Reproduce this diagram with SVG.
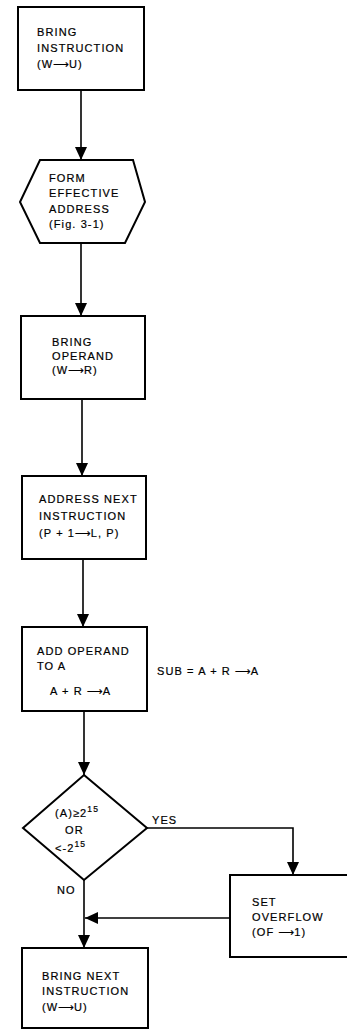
<svg xmlns="http://www.w3.org/2000/svg" width="347" height="1030" viewBox="0 0 347 1030">
<style>
.box{fill:#fff;stroke:#000;stroke-width:2}
.ln{fill:none;stroke:#000;stroke-width:1.6}
text{font-family:"Liberation Sans",Arial,sans-serif;font-size:11px;letter-spacing:1.1px;fill:#000;stroke:#000;stroke-width:0.2}
.sup{font-size:8.5px}
.ar{font-family:"DejaVu Sans",sans-serif;letter-spacing:0}
</style>
<defs>
<marker id="ah" markerUnits="userSpaceOnUse" markerWidth="13" markerHeight="12" refX="13" refY="6" orient="auto">
<path d="M0,0 L13,6 L0,12 z" fill="#000"/>
</marker>
</defs>
<rect width="347" height="1030" fill="#fff"/>
<g id="connectors">
<path class="ln" d="M81,90 V160" marker-end="url(#ah)"/>
<path class="ln" d="M81,243 V316" marker-end="url(#ah)"/>
<path class="ln" d="M82,399 V476" marker-end="url(#ah)"/>
<path class="ln" d="M83,559 V627" marker-end="url(#ah)"/>
<path class="ln" d="M84,711 V775" marker-end="url(#ah)"/>
<path class="ln" d="M147,828 H293 V875" marker-end="url(#ah)"/>
<path class="ln" d="M84,880 V948" marker-end="url(#ah)"/>
<path class="ln" d="M230,918 H85" marker-end="url(#ah)"/>
</g>
<g id="n1">
<rect class="box" x="18" y="7" width="126" height="83"/>
<text x="37" y="36">BRING</text>
<text x="37" y="52">INSTRUCTION</text>
<text x="37" y="68">(W<tspan class="ar">⟶</tspan>U)</text>
</g>
<g id="n2">
<polygon class="box" points="40,160 133,160 145,202 125,243 40,243 20,202"/>
<text x="49" y="182">FORM</text>
<text x="49" y="197">EFFECTIVE</text>
<text x="49" y="213">ADDRESS</text>
<text x="49" y="228">(Fig. 3-1)</text>
</g>
<g id="n3">
<rect class="box" x="21" y="316" width="124" height="83"/>
<text x="52" y="346">BRING</text>
<text x="52" y="360">OPERAND</text>
<text x="52" y="374">(W<tspan class="ar">⟶</tspan>R)</text>
</g>
<g id="n4">
<rect class="box" x="22" y="476" width="124" height="83"/>
<text x="39" y="503">ADDRESS NEXT</text>
<text x="39" y="520">INSTRUCTION</text>
<text x="39" y="537">(P + 1<tspan class="ar">⟶</tspan>L, P)</text>
</g>
<g id="n5">
<rect class="box" x="22" y="627" width="125" height="84"/>
<text x="37" y="655">ADD OPERAND</text>
<text x="37" y="670">TO A</text>
<text x="50" y="695">A + R <tspan class="ar">⟶</tspan>A</text>
</g>
<g id="note">
<text x="157" y="675">SUB = A + R <tspan class="ar">⟶</tspan>A</text>
</g>
<g id="n6">
<polygon class="box" points="84,775 147,828 84,880 23,828"/>
<text x="55" y="817">(A)≥2<tspan class="sup" dy="-5">15</tspan></text>
<text x="65" y="834">OR</text>
<text x="55" y="852">&lt;-2<tspan class="sup" dy="-5">15</tspan></text>
<text x="152" y="824">YES</text>
<text x="57" y="894">NO</text>
</g>
<g id="n7">
<rect class="box" x="230" y="875" width="130" height="82"/>
<text x="252" y="906">SET</text>
<text x="252" y="921">OVERFLOW</text>
<text x="252" y="936">(OF <tspan class="ar">⟶</tspan>1)</text>
</g>
<g id="n8">
<rect class="box" x="22" y="948" width="126" height="80"/>
<text x="42" y="980">BRING NEXT</text>
<text x="42" y="995">INSTRUCTION</text>
<text x="42" y="1011">(W<tspan class="ar">⟶</tspan>U)</text>
</g>
</svg>
